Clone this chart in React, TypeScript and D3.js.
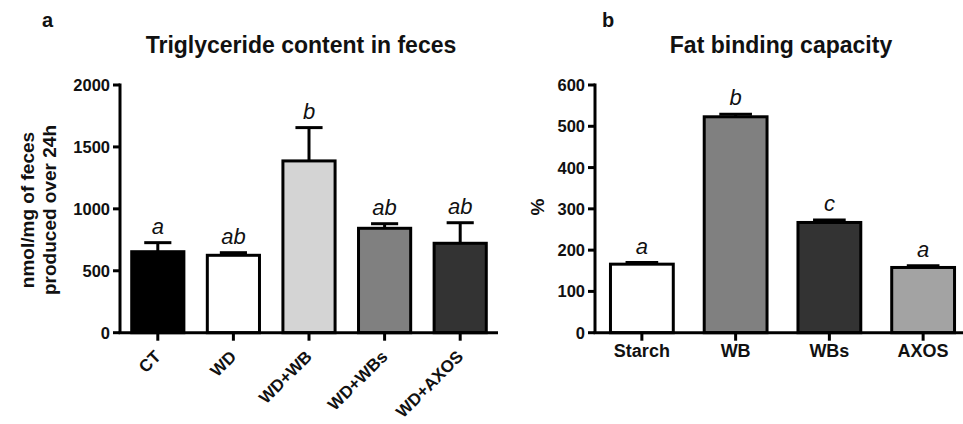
import React from "react";
import * as d3 from "d3";

const catsA = ["CT", "WD", "WD+WB", "WD+WBs", "WD+AXOS"];
const valsA = [654, 625, 1387, 843, 722];
const errA = [73, 21, 269, 37, 166];
const sigA = ["a", "ab", "b", "ab", "ab"];
const ticksA = [0, 500, 1000, 1500, 2000];

const catsB = ["Starch", "WB", "WBs", "AXOS"];
const valsB = [166, 523, 267, 158];
const errB = [4, 6, 6, 4];
const sigB = ["a", "b", "c", "a"];
const ticksB = [0, 100, 200, 300, 400, 500, 600];

const fillsA = ["#000000", "#ffffff", "#d4d4d4", "#808080", "#333333"];
const fillsB = ["#ffffff", "#808080", "#333333", "#a3a3a3"];

const FONT = "'Liberation Sans', Arial, Helvetica, sans-serif";
const SW = 3;

type PanelProps = {
  cats: string[];
  vals: number[];
  errs: number[];
  sig: string[];
  fills: string[];
  ticks: number[];
  max: number;
  x0: number;
  x1: number;
  rotate: boolean;
};

function Panel({ cats, vals, errs, sig, fills, ticks, max, x0, x1, rotate }: PanelProps) {
  const y = d3.scaleLinear().domain([0, max]).range([332.7, 85]);
  const x = d3
    .scaleBand<string>()
    .domain(cats)
    .range([x0, x1])
    .paddingInner(rotate ? 0.31 : 0.33)
    .paddingOuter(rotate ? 0.155 : 0.165);
  const bw = x.bandwidth();
  const capW = bw * 0.52;
  return (
    <g>
      {cats.map((c, i) => {
        const cx = (x(c) as number) + bw / 2;
        const top = y(vals[i]);
        const et = y(vals[i] + errs[i]);
        return (
          <g key={c}>
            <line x1={cx} x2={cx} y1={top} y2={et} stroke="#000" strokeWidth={SW} />
            <line x1={cx - capW / 2} x2={cx + capW / 2} y1={et} y2={et} stroke="#000" strokeWidth={SW} />
            <rect
              x={x(c) as number}
              y={top}
              width={bw}
              height={y(0) - top}
              fill={fills[i]}
              stroke="#000"
              strokeWidth={SW}
            />
            <text
              x={cx}
              y={et - 9}
              textAnchor="middle"
              fontFamily={FONT}
              fontStyle="italic"
              fontSize={22}
              fill="#111"
            >
              {sig[i]}
            </text>
            <line x1={cx} x2={cx} y1={y(0)} y2={y(0) + 8} stroke="#000" strokeWidth={SW} />
            {rotate ? (
              <text
                transform={`translate(${cx + 4},${y(0) + 25}) rotate(-45)`}
                textAnchor="end"
                fontFamily={FONT}
                fontWeight="bold"
                fontSize={17}
                fill="#111"
              >
                {c}
              </text>
            ) : (
              <text
                x={cx}
                y={y(0) + 24}
                textAnchor="middle"
                fontFamily={FONT}
                fontWeight="bold"
                fontSize={18}
                fill="#111"
              >
                {c}
              </text>
            )}
          </g>
        );
      })}
      <line x1={x0} x2={x0} y1={y(max) - 1.5} y2={y(0)} stroke="#000" strokeWidth={SW} />
      <line x1={x0 - 1.5} x2={x1} y1={y(0)} y2={y(0)} stroke="#000" strokeWidth={SW} />
      {ticks.map((t) => (
        <g key={t}>
          <line x1={x0 - 7} x2={x0} y1={y(t)} y2={y(t)} stroke="#000" strokeWidth={SW} />
          <text
            x={x0 - 10}
            y={y(t)}
            dy="0.36em"
            textAnchor="end"
            fontFamily={FONT}
            fontWeight="bold"
            fontSize={16.5}
            fill="#111"
          >
            {t}
          </text>
        </g>
      ))}
    </g>
  );
}

export default function App() {
  return (
    <div style={{ position: "absolute", left: 0, top: 0 }}>
      <svg width={963} height={424} style={{ display: "block", background: "#fff" }}>
        <rect x={0} y={0} width={963} height={424} fill="#fff" />
        <text x={42} y={27} fontFamily={FONT} fontWeight="bold" fontSize={20} fill="#111">
          a
        </text>
        <text x={602} y={27} fontFamily={FONT} fontWeight="bold" fontSize={20} fill="#111">
          b
        </text>
        <text x={301} y={53} textAnchor="middle" fontFamily={FONT} fontWeight="bold" fontSize={23} fill="#111">
          Triglyceride content in feces
        </text>
        <text x={781} y={53} textAnchor="middle" fontFamily={FONT} fontWeight="bold" fontSize={23} fill="#111">
          Fat binding capacity
        </text>
        <text
          transform="translate(34,210) rotate(-90)"
          textAnchor="middle"
          fontFamily={FONT}
          fontWeight="bold"
          fontSize={19}
          fill="#111"
        >
          nmol/mg of feces
        </text>
        <text
          transform="translate(56,210) rotate(-90)"
          textAnchor="middle"
          fontFamily={FONT}
          fontWeight="bold"
          fontSize={19}
          fill="#111"
        >
          produced over 24h
        </text>
        <text
          transform="translate(544,207) rotate(-90)"
          textAnchor="middle"
          fontFamily={FONT}
          fontWeight="bold"
          fontSize={19}
          fill="#111"
        >
          %
        </text>
        <Panel
          cats={catsA}
          vals={valsA}
          errs={errA}
          sig={sigA}
          fills={fillsA}
          ticks={ticksA}
          max={2000}
          x0={120}
          x1={498}
          rotate={true}
        />
        <Panel
          cats={catsB}
          vals={valsB}
          errs={errB}
          sig={sigB}
          fills={fillsB}
          ticks={ticksB}
          max={600}
          x0={595}
          x1={970}
          rotate={false}
        />
      </svg>
    </div>
  );
}
